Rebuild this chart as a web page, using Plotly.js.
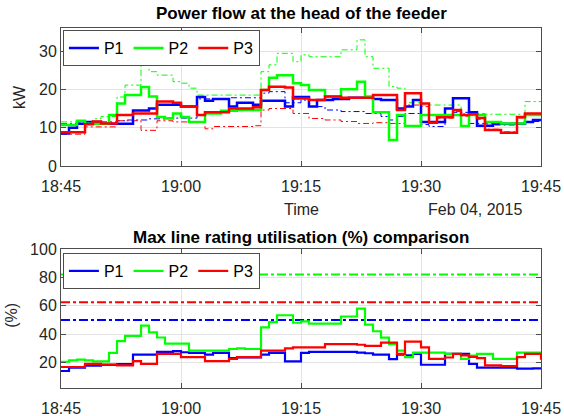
<!DOCTYPE html>
<html>
<head>
<meta charset="utf-8">
<script src="https://cdn.plot.ly/plotly-2.35.2.min.js"></script>
<style>html,body{margin:0;padding:0;background:#fff;}#chart{width:564px;height:416px;}</style>
</head>
<body>
<div id="chart"></div>
<script>
// minutes after 18:45 on Feb 04, 2015 (one sample per minute)
const minutes = Array.from({length: 61}, (_, i) => i);
const tickVals = [0, 15, 30, 45, 60];
const tickLabels = ['18:45', '19:00', '19:15', '19:30', '19:45'];
const seriesNames = ['P1', 'P2', 'P3'];

// Top: power flow (kW), solid lines
const p1Power = [8.5,10,11,11.5,11.5,11,11,11,11,14.5,14.5,15,16,16,16,15.5,15.5,18,17,17.5,17.5,15.5,16.5,16.5,16,17,17,17,15.5,18,18,15.5,17.2,17.2,17.5,17.5,17.8,17.8,17.8,17.5,17.2,17.2,15,15.5,17.2,11.5,11.5,11.5,15,17.7,17.7,14,10.5,10.5,11,11,11,11,11.5,12,12];
const p2Power = [10.7,10.7,11.8,11,11,11,13.3,16.3,18.5,18.5,20.6,18.1,12.8,12.4,13.7,12.8,11.5,11.5,13.7,13.7,14.4,14.4,14.6,14.6,14.6,19.8,23,23.7,23.7,21.6,21.1,19.8,19.8,18.1,18.1,20,20,22,18.1,14,14,6.8,13.3,10.4,10.4,13.3,13.3,13.3,13.3,13.3,10.4,13.3,13.3,11.5,11.5,11.1,11.1,11.1,13.3,13.3,13.3];
const p3Power = [8.8,8.8,8.8,10.9,11.6,11.1,11.1,13.3,13.3,13.7,13.7,13.7,16.8,16.8,16.5,15.5,15.5,13.3,14,14,14,15,15,15,15.3,19.8,20.7,20.7,20.5,17.6,17.6,17.2,17.2,18.1,18.1,17.8,17.8,17.8,17.8,18.5,18.5,18.5,14.6,19,19,16.3,11.3,12.7,12.7,14.6,13.3,13.5,12.5,9.4,9.4,8.7,8.7,12.8,13.7,13.7,13.7];
// Top: power flow (kW), dash-dot comparison lines
const p1PowerAlt = [11,11,11.2,11.5,11.5,11.5,11.5,11.8,12,12,12,12.3,12.3,12.5,12.5,12.5,12.5,17.5,17.5,17.5,17.5,17.8,17.8,17.8,17.8,19,19.4,19.4,16.5,16.5,17.2,15.5,15.5,14.6,14.6,14.2,14.2,14.2,13.7,13.7,12.9,12,12.9,13.7,13.7,10.8,10.3,10.3,13,14,14,11.1,11.1,11,10.7,10.7,10.7,11,11.6,11.6,11.6];
const p2PowerAlt = [11.5,11.5,11.5,11.6,12.3,12.9,12.9,18,21.1,21.1,26.4,24.6,23.7,23.7,22,21.6,20.3,18.5,18.5,18.5,18.5,18.5,18.5,18.5,18.5,24.6,26.4,29.4,29.4,27.2,29,28.5,28.5,28.5,28.5,30.3,30.3,32.9,28.5,25.5,25.5,20.7,20.3,16.5,16.5,15.9,15.9,15.9,15.9,15.9,13.7,13.7,13.7,13.5,13.5,13.5,13.5,13.5,16.8,16.8,16.8];
const p3PowerAlt = [8.3,8.3,8.3,10.2,10.2,10.2,10.2,11.8,11.8,11.8,9.3,9.3,11.8,11.8,11.5,11.5,11.5,11.5,9.7,10.3,10.3,10.3,10.3,10.3,10.5,14.6,15,15,15,13.7,13.7,12.4,12.4,12,12,11.6,11.6,11.1,11.1,11.3,11.3,11.1,11.1,15.9,15.9,15.5,11.5,12.5,12.5,14.2,13,13.2,12.2,9.6,9.6,8.9,8.9,12.5,13.5,13.5,13.5];

// Bottom: max line rating utilisation (%)
const p1Util = [14,16.4,16.4,17.8,17.8,18.3,18.3,18.8,18.8,25.5,25.5,25.5,27.5,27.5,28,27.2,26.7,26.7,25.5,26.7,26.7,23.1,23.6,23.6,23.6,25.5,26.7,26.7,20.7,20.7,26.7,27.5,27.5,27.5,27.5,27.5,27.5,27,26.5,25.5,25.5,22.4,25.5,25,26,18.4,18.4,18.4,26,26,26,19,16.3,16.3,16.3,16.3,16.3,15.6,15.6,15.8,16];
const p2Util = [20.5,21.5,22,21.5,20.7,20.7,26.7,35,38.8,38.8,46,41.2,37.6,33.3,33.3,33.3,28.3,28.3,28.3,28.4,28.4,29.5,30,29.5,29.5,44.8,48.4,53.3,53.3,48,49,47.4,47.4,47.4,47.4,52.4,52.4,58,46.7,42,37.5,32.9,28.3,23.7,27,27,27,27,26,26,22.5,24.8,26,26,22.5,22.5,22.5,27,27,27,26.5];
const p3Util = [16.8,16.8,16.8,19,19,18.5,18.5,18,18,21,19,19,26,26,26,23.7,23.7,23.7,20.9,20.9,20.9,22.5,23.7,23.7,23.7,28.3,28.3,28.3,30,30.6,30.6,30.6,30.6,32.9,32.9,32.9,32.9,32.5,31.7,31.7,34,34,26,34.7,34.7,30.6,22.5,22.5,23.5,26,25,24,23,18,18,17.5,17.5,23.7,26,26,22];
// Bottom: maximum utilisation levels (dash-dot)
const maxUtil = [50, 82, 62.5];

const colors = ['#0000ff', '#00ff00', '#ff0000'];
const solidPower = [p1Power, p2Power, p3Power];
const altPower = [p1PowerAlt, p2PowerAlt, p3PowerAlt];
const solidUtil = [p1Util, p2Util, p3Util];

const traces = [];
for (let k = 0; k < 3; k++) {
  traces.push({x: minutes, y: altPower[k], type: 'scatter', mode: 'lines', line: {shape: 'hv', color: colors[k], width: 1, dash: '6px,3px,2px,3px'}, showlegend: false, xaxis: 'x', yaxis: 'y', hoverinfo: 'skip'});
}
for (let k = 0; k < 3; k++) {
  traces.push({x: minutes, y: solidPower[k], name: seriesNames[k], type: 'scatter', mode: 'lines', line: {shape: 'hv', color: colors[k], width: 2.5}, xaxis: 'x', yaxis: 'y', legend: 'legend'});
}
for (let k = 0; k < 3; k++) {
  traces.push({x: [minutes[0], minutes[minutes.length - 1]], y: [maxUtil[k], maxUtil[k]], type: 'scatter', mode: 'lines', line: {color: colors[k], width: 2, dash: 'dashdot'}, showlegend: false, xaxis: 'x2', yaxis: 'y2'});
}
for (let k = 0; k < 3; k++) {
  traces.push({x: minutes, y: solidUtil[k], name: seriesNames[k], type: 'scatter', mode: 'lines', line: {shape: 'hv', color: colors[k], width: 2.2}, xaxis: 'x2', yaxis: 'y2', legend: 'legend2'});
}

const FONT = 'Liberation Sans, Arial, sans-serif';
const axisCommon = {
  showline: true, linecolor: '#4d4d4d', linewidth: 1, mirror: 'ticks',
  ticks: 'inside', ticklen: 5, tickcolor: '#4d4d4d',
  showgrid: true, gridcolor: '#e3e3e3', gridwidth: 1, zeroline: false,
  tickfont: {family: FONT, size: 16, color: '#262626'}
};
const xCommon = Object.assign({}, axisCommon, {range: [0, 60], tickvals: tickVals, ticktext: tickLabels, ticklabelstandoff: 6});

const legendCommon = {
  orientation: 'h', bgcolor: '#ffffff', bordercolor: '#4d4d4d', borderwidth: 1,
  font: {family: FONT, size: 16, color: '#000'}, xanchor: 'left', yanchor: 'top',
  tracegroupgap: 0, itemwidth: 30
};

const layout = {
  width: 564, height: 416,
  margin: {l: 61, r: 23, t: 28, b: 28},
  paper_bgcolor: '#ffffff', plot_bgcolor: '#ffffff',
  font: {family: FONT, color: '#262626'},
  xaxis: Object.assign({}, xCommon, {anchor: 'y'}),
  yaxis: Object.assign({}, axisCommon, {domain: [0.6167, 1], range: [0, 36], tickvals: [0, 10, 20, 30], anchor: 'x'}),
  xaxis2: Object.assign({}, xCommon, {anchor: 'y2'}),
  yaxis2: Object.assign({}, axisCommon, {domain: [0, 0.3861], range: [2, 100], tickvals: [20, 40, 60, 80, 100], anchor: 'x2'}),
  legend: Object.assign({}, legendCommon, {x: 0.004, y: 0.994}),
  legend2: Object.assign({}, legendCommon, {x: 0.004, y: 0.375}),
  showlegend: true,
  annotations: [
    {text: '<b>Power flow at the head of the feeder</b>', xref: 'paper', yref: 'paper', x: 0.5, y: 1.039, xanchor: 'center', yanchor: 'middle', showarrow: false, font: {family: FONT, size: 17, color: '#000'}},
    {text: '<b>Max line rating utilisation (%) comparison</b>', xref: 'paper', yref: 'paper', x: 0.5, y: 0.4167, xanchor: 'center', yanchor: 'middle', showarrow: false, font: {family: FONT, size: 17, color: '#000'}},
    {text: 'Time', xref: 'paper', yref: 'paper', x: 0.5, y: 0.497, xanchor: 'center', yanchor: 'middle', showarrow: false, font: {family: FONT, size: 16, color: '#262626'}},
    {text: 'Feb 04, 2015', xref: 'paper', yref: 'paper', x: 0.8625, y: 0.497, xanchor: 'center', yanchor: 'middle', showarrow: false, font: {family: FONT, size: 16, color: '#262626'}},
    {text: 'kW', xref: 'paper', yref: 'paper', x: -0.0875, y: 0.808, xanchor: 'center', yanchor: 'middle', textangle: -90, showarrow: false, font: {family: FONT, size: 16, color: '#262626'}},
    {text: '(%)', xref: 'paper', yref: 'paper', x: -0.1025, y: 0.203, xanchor: 'center', yanchor: 'middle', textangle: -90, showarrow: false, font: {family: FONT, size: 16, color: '#262626'}}
  ]
};

Plotly.newPlot('chart', traces, layout, {displayModeBar: false, staticPlot: true});
</script>
</body>
</html>
